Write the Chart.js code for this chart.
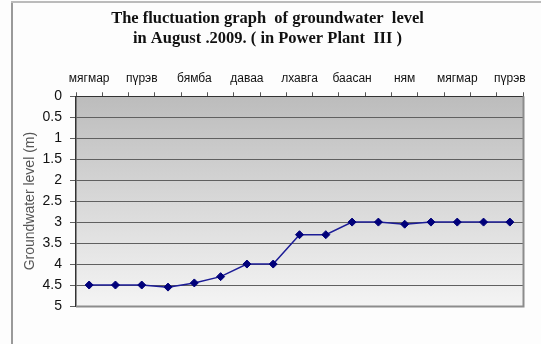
<!DOCTYPE html>
<html>
<head>
<meta charset="utf-8">
<script src="https://cdn.jsdelivr.net/npm/chart.js@4.4.1/dist/chart.umd.min.js"></script>
<style>
  html, body { margin: 0; padding: 0; background: #fff; }
  canvas { display: block; }
</style>
</head>
<body>
<canvas id="levelChart" width="541" height="344"></canvas>
<script>
// daily readings, 17 days (only every other day name is shown on the axis)
const days = ['мягмар', 'лхавга', 'пүрэв', 'баасан', 'бямба', 'ням', 'даваа', 'мягмар', 'лхавга',
  'пүрэв', 'баасан', 'бямба', 'ням', 'даваа', 'мягмар', 'лхавга', 'пүрэв'];
const levels = [4.5, 4.5, 4.5, 4.55, 4.45, 4.3, 4.0, 4.0, 3.3, 3.3, 3.0, 3.0, 3.05, 3.0, 3.0, 3.0, 3.0];
const titleLines = ['The fluctuation graph  of groundwater  level', 'in August .2009. ( in Power Plant  III )'];
const yTitle = 'Groundwater level (m)';

// grey gradient behind the plot, plus the outer frame lines
const plotBackground = {
  id: 'plotBackground',
  beforeDraw(chart) {
    const { ctx, chartArea: a } = chart;
    ctx.save();
    ctx.fillStyle = '#fdfdfd';
    ctx.fillRect(0, 0, chart.width, chart.height);
    const g = ctx.createLinearGradient(0, a.top, 0, a.bottom);
    g.addColorStop(0, '#bcbcbc');
    g.addColorStop(1, '#f4f4f4');
    ctx.fillStyle = g;
    ctx.fillRect(a.left, a.top, a.right - a.left, a.bottom - a.top);
    // frame
    ctx.fillStyle = '#9a9a9a';
    ctx.fillRect(11, 1, 2, chart.height);
    ctx.fillStyle = '#bbbbbb';
    ctx.fillRect(11, 1, chart.width - 11, 2);
    ctx.restore();
  },
  beforeDatasetsDraw(chart) {
    const { ctx, chartArea: a } = chart;
    ctx.save();
    ctx.strokeStyle = '#8c8c8c';
    ctx.lineWidth = 2;
    ctx.beginPath();
    ctx.moveTo(a.left, a.bottom + 0.5);
    ctx.lineTo(a.right + 0.5, a.bottom + 0.5);
    ctx.lineTo(a.right + 0.5, a.top);
    ctx.stroke();
    ctx.restore();
  }
};

new Chart(document.getElementById('levelChart').getContext('2d'), {
  type: 'line',
  data: {
    labels: days,
    datasets: [{
      data: levels,
      borderColor: '#1c1c96',
      borderWidth: 1.5,
      backgroundColor: '#00007a',
      pointStyle: 'rectRot',
      pointRadius: 4,
      pointBorderWidth: 1,
      pointBorderColor: '#00007a',
      tension: 0,
    }],
  },
  options: {
    responsive: false,
    animation: false,
    layout: { padding: { left: 12, right: 18, top: 0, bottom: 38 } },
    plugins: {
      legend: { display: false },
      tooltip: { enabled: false },
      title: {
        display: true,
        text: titleLines,
        color: '#111',
        font: { family: '"Liberation Serif", "Times New Roman", serif', size: 16.5, weight: 'bold', lineHeight: 1.22 },
        padding: { top: 9, bottom: 0 },
      },
    },
    scales: {
      x: {
        position: 'top',
        offset: true,
        afterFit(scale) { scale.height = 47; },
        grid: {
          offset: true,
          drawOnChartArea: false,
          tickLength: 4,
          color: '#555',
        },
        border: { display: true, color: '#333', width: 1 },
        ticks: {
          autoSkip: false,
          maxRotation: 0,
          padding: 6,
          color: '#111',
          font: { family: '"Liberation Sans", Arial, sans-serif', size: 12 },
          callback: (v, i) => (i % 2 === 0 ? days[i] : ''),
        },
      },
      y: {
        reverse: true,
        min: 0,
        max: 5,
        afterFit(scale) { scale.width = 64; },
        grid: { color: '#606060', lineWidth: 1, tickLength: 6 },
        border: { display: true, color: '#333', width: 1.5 },
        ticks: {
          stepSize: 0.5,
          padding: 8,
          color: '#111',
          font: { family: '"Liberation Sans", Arial, sans-serif', size: 14 },
          callback: (v) => String(Math.round(v * 10) / 10),
        },
        title: {
          display: true,
          text: yTitle,
          color: '#555',
          padding: { top: 10, bottom: 0 },
          font: { family: '"Liberation Sans", Arial, sans-serif', size: 14 },
        },
      },
    },
  },
  plugins: [plotBackground],
});
</script>
</body>
</html>
